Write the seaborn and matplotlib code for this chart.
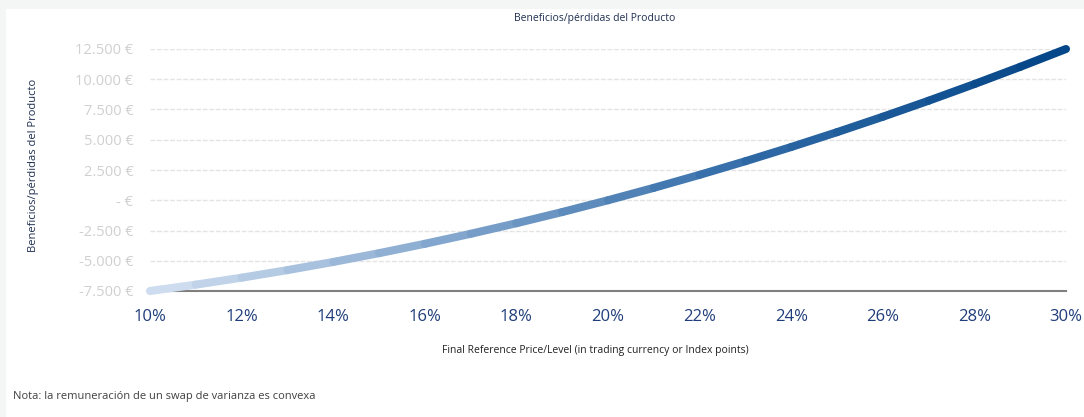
import numpy as np
import pandas as pd
import matplotlib
matplotlib.use("Agg")
import matplotlib.pyplot as plt
import seaborn as sns
from matplotlib.ticker import FuncFormatter
from matplotlib.colors import LinearSegmentedColormap
from matplotlib.patches import Rectangle

# Data
volatility = [0.10, 0.11, 0.12, 0.13, 0.14, 0.15, 0.16, 0.17, 0.18, 0.19, 0.20,
              0.21, 0.22, 0.23, 0.24, 0.25, 0.26, 0.27, 0.28, 0.29, 0.30]
pnl = [-7500, -6975, -6400, -5775, -5100, -4375, -3600, -2775, -1900, -975, 0,
       1025, 2100, 3225, 4400, 5625, 6900, 8225, 9600, 11025, 12500]
x_ticks = [0.10, 0.12, 0.14, 0.16, 0.18, 0.20, 0.22, 0.24, 0.26, 0.28, 0.30]
y_ticks = [-7500, -5000, -2500, 0, 2500, 5000, 7500, 10000, 12500]

title = "Beneficios/pérdidas del Producto"
ylabel = "Beneficios/pérdidas del Producto"
xlabel = "Final Reference Price/Level (in trading currency or Index points)"
note = "Nota: la remuneración de un swap de varianza es convexa"

sns.set_theme(style="white")
plt.rcParams['font.family'] = ['Open Sans', 'DejaVu Sans']

fig = plt.figure(figsize=(10.84, 4.17), dpi=100, facecolor='#f4f6f6')
fig.patches.append(Rectangle((6 / 1084, 0), 1, 1 - 9 / 417, transform=fig.transFigure,
                             facecolor='white', edgecolor='none', zorder=-10))
ax = fig.add_axes([150 / 1084, 1 - 291 / 417, (1066 - 150) / 1084, (291 - 49) / 417])
ax.set_facecolor('none')
ax.set_zorder(1)

# segments dataframe for gradient line
rows = []
for i in range(len(volatility) - 1):
    rows.append({'seg': i, 'x': volatility[i], 'y': pnl[i]})
    rows.append({'seg': i, 'x': volatility[i + 1], 'y': pnl[i + 1]})
df = pd.DataFrame(rows)
cmap = LinearSegmentedColormap.from_list('g', ['#cddcee', '#7ea3cc', '#2f6aa6', '#064789'])
nseg = len(volatility) - 1
palette = [cmap(i / (nseg - 1)) for i in range(nseg)]
sns.lineplot(data=df, x='x', y='y', hue='seg', palette=palette, linewidth=5.8,
             legend=False, sort=False, estimator=None, ax=ax,
             solid_capstyle='round', zorder=3, clip_on=False)

ax.set_xlim(0.10, 0.30)
ax.set_ylim(-7500, 12500)
ax.set_xticks(x_ticks)
ax.set_yticks(y_ticks)
ax.xaxis.set_major_formatter(FuncFormatter(lambda v, p: f"{v*100:.0f}%"))

def yfmt(v, p):
    if abs(v) < 1e-9:
        return "- €"
    s = f"{abs(v):,.0f}".replace(",", ".")
    return ("-" if v < 0 else "") + s + " €"

ax.yaxis.set_major_formatter(FuncFormatter(yfmt))
ax.tick_params(axis='x', colors='#1f3d7a', labelsize=12, length=0, pad=13)
ax.tick_params(axis='y', colors='#d0d0d0', labelsize=10.5, length=0, pad=12)

for y in y_ticks[1:]:
    ax.axhline(y, color='#e4e4e4', linewidth=1, linestyle=(0, (3.5, 1.2)), zorder=1)

for s in ['top', 'right', 'left']:
    ax.spines[s].set_visible(False)
ax.spines['bottom'].set_color('#7f7f7f')
ax.spines['bottom'].set_linewidth(1.5)
ax.spines['bottom'].set_zorder(2)
ax.set_xlabel('')
ax.set_ylabel('')

fig.text(595 / 1084, 1 - 18 / 417, title, ha='center', va='center', fontsize=7.5, color='#1f2f50')
fig.text(34 / 1084, 1 - 165 / 417, ylabel, ha='center', va='center', rotation=90,
         fontsize=8, color='#1f2f50')
fig.text(595 / 1084, 1 - 351 / 417, xlabel, ha='center', va='center', fontsize=7.5, color='#222222')
fig.text(13 / 1084, 1 - 397 / 417, note, ha='left', va='center', fontsize=8, color='#404040')

fig.savefig('out.png', dpi=100, facecolor=fig.get_facecolor())
